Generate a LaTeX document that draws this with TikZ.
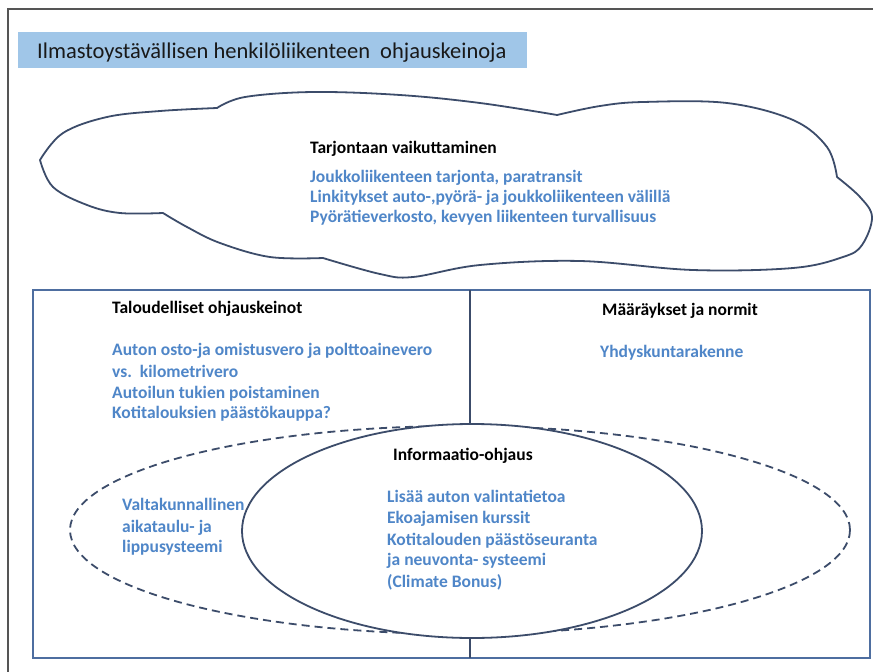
\documentclass[tikz,border=0pt]{standalone}
\usepackage{fontspec}
\setmainfont{Carlito}
\definecolor{titlefill}{RGB}{160,198,232}
\definecolor{bluetext}{RGB}{79,134,200}
\definecolor{cloudline}{RGB}{60,76,106}
\definecolor{boxline}{RGB}{78,110,160}
\definecolor{frameline}{RGB}{85,85,85}
\tikzset{
  head/.style={anchor=base west, inner sep=0pt, font=\bfseries\fontsize{17.5}{20}\selectfont, text=black},
  item/.style={anchor=base west, inner sep=0pt, font=\bfseries\fontsize{17.5}{20}\selectfont, text=bluetext},
  cloudpath/.style={draw=cloudline, line width=1.8pt, line join=round},
  ellsolid/.style={draw=cloudline, line width=1.8pt},
  elldash/.style={draw=cloudline, line width=1.8pt, dash pattern=on 8pt off 5pt},
}
\begin{document}
\begin{tikzpicture}[x=1pt,y=-1pt]
\useasboundingbox (0,0) rectangle (873,672);
\fill[white] (0,0) rectangle (873,672);
% outer frame
\draw[frameline, line width=1.2pt] (8,700) -- (8,9) -- (890,9);
% title
\fill[titlefill] (18,32) rectangle (527,68);
\node[anchor=base west, inner sep=0pt, font=\fontsize{22.5}{26}\selectfont, text=black!90] (title) at (37,58) {Ilmastoystävällisen henkilöliikenteen\ \ ohjauskeinoja};
% cloud
\draw[cloudpath]
  plot[smooth, tension=0.6] coordinates {(40,160) (63,133) (107,117) (160,111) (217,108)}
  -- plot[smooth, tension=0.6] coordinates {(217,108) (245,97) (313,92) (400,95) (480,103) (557,115)}
  -- plot[smooth, tension=0.6] coordinates {(557,115) (600,106) (643,102) (727,103) (793,120) (827,147) (837,177)}
  -- plot[smooth, tension=0.6] coordinates {(837,177) (860,197) (872,217) (862,245) (843,257) (793,268) (693,270) (580,261) (480,265) (413,277) (380,274) (323,258)}
  -- plot[smooth, tension=0.6] coordinates {(323,258) (270,257) (220,243) (187,227) (163,213)}
  -- plot[smooth, tension=0.6] coordinates {(163,213) (120,213) (87,205) (53,187) (40,160)}
  -- cycle;
\node[head] (supplyhead) at (310,153) {Tarjontaan vaikuttaminen};
\node[item] (s1) at (310,182) {Joukkoliikenteen tarjonta, paratransit};
\node[item] (s2) at (310,202) {Linkitykset auto-,pyörä- ja joukkoliikenteen välillä};
\node[item] (s3) at (310,222) {Pyörätieverkosto, kevyen liikenteen turvallisuus};
% main box
\draw[boxline, line width=2.2pt] (33,290) rectangle (870,658);
\draw[cloudline, line width=1.4pt] (470,290) -- (470,658);
\node[head] (econhead) at (112,313) {Taloudelliset ohjauskeinot};
\node[item] (e1) at (112,355) {Auton osto-ja omistusvero ja polttoainevero};
\node[item] (e2) at (112,377) {vs.\ \ kilometrivero};
\node[item] (e3) at (112,398) {Autoilun tukien poistaminen};
\node[item] (e4) at (112,418) {Kotitalouksien päästökauppa?};
\node[head] (normhead) at (602,315) {Määräykset ja normit};
\node[item] (n1) at (600,357) {Yhdyskuntarakenne};
% left text in dashed ellipse
\node[item] (v1) at (122,510) {Valtakunnallinen};
\node[item] (v2) at (122,532) {aikataulu- ja};
\node[item] (v3) at (122,552) {lippusysteemi};
% ellipses
\draw[elldash] (460,530) ellipse [x radius=390, y radius=104];
\fill[white] (472,531) ellipse [x radius=230, y radius=107];
\draw[ellsolid] (472,531) ellipse [x radius=230, y radius=107];
\node[head] (infohead) at (393,460) {Informaatio-ohjaus};
\node[item] (i1) at (387,502) {Lisää auton valintatietoa};
\node[item] (i2) at (387,523) {Ekoajamisen kurssit};
\node[item] (i3) at (387,545) {Kotitalouden päästöseuranta};
\node[item] (i4) at (387,565) {ja neuvonta- systeemi};
\node[item] (i5) at (387,587) {(Climate Bonus)};
\end{tikzpicture}
\end{document}
